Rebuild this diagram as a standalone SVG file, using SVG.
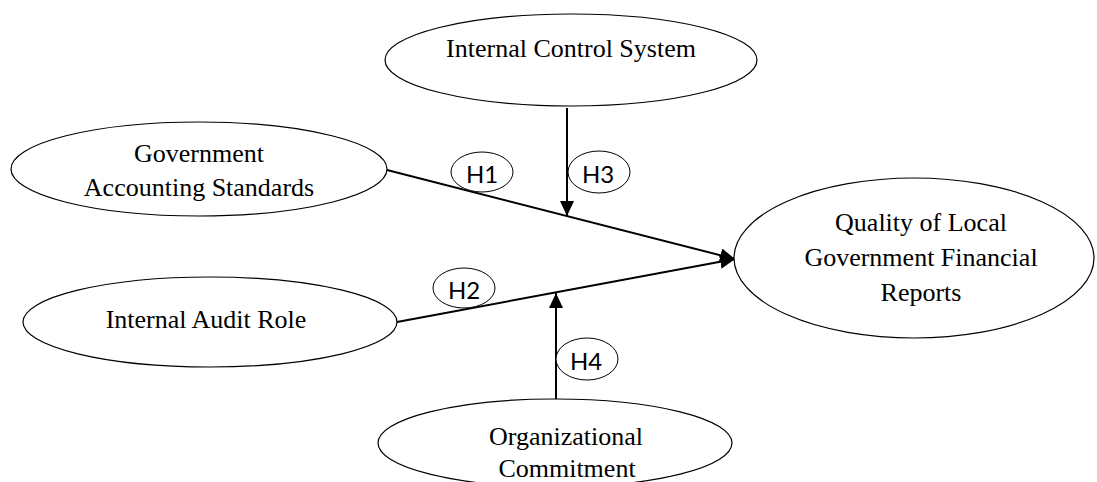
<svg xmlns="http://www.w3.org/2000/svg" width="1097" height="482" viewBox="0 0 1097 482">
<style>
.node{fill:#fff;stroke:#000;stroke-width:1.2}
.lab{fill:#fff;stroke:#000;stroke-width:1}
.t{font-family:"Liberation Serif","Times New Roman",serif;font-size:26px;fill:#000;text-anchor:middle}
.h{font-family:Lato,"Liberation Sans",sans-serif;font-size:24px;fill:#000;text-anchor:middle}
.c{stroke:#000;stroke-width:2;fill:none;marker-end:url(#ah)}
</style>
<defs>
<marker id="ah" markerUnits="userSpaceOnUse" markerWidth="16" markerHeight="14" refX="15" refY="7" orient="auto">
<path d="M0,0 L15,7 L0,14 z" fill="#000"/>
</marker>
</defs>
<rect width="1097" height="482" fill="#fff"/>
<g id="connectors">
<line class="c" x1="387" y1="170" x2="735" y2="259"/>
<line class="c" x1="397" y1="322" x2="735" y2="259"/>
<line class="c" x1="567" y1="108" x2="567" y2="216"/>
<line class="c" x1="556" y1="399" x2="556" y2="293"/>
</g>
<g id="ics">
<ellipse class="node" cx="571" cy="60" rx="186" ry="46"/>
<text class="t" x="571" y="57">Internal Control System</text>
</g>
<g id="gas">
<ellipse class="node" cx="199" cy="169" rx="188" ry="47"/>
<text class="t" x="199" y="162">Government</text>
<text class="t" x="199" y="196">Accounting Standards</text>
</g>
<g id="iar">
<ellipse class="node" cx="210" cy="322" rx="187" ry="45"/>
<text class="t" x="206" y="328">Internal Audit Role</text>
</g>
<g id="quality">
<ellipse class="node" cx="914" cy="258" rx="180" ry="80"/>
<text class="t" x="921" y="231">Quality of Local</text>
<text class="t" x="921" y="266">Government Financial</text>
<text class="t" x="921" y="301">Reports</text>
</g>
<g id="oc">
<ellipse class="node" cx="555" cy="443" rx="177" ry="44"/>
<text class="t" x="566" y="445">Organizational</text>
<text class="t" x="567" y="477">Commitment</text>
</g>
<g id="h1">
<ellipse class="lab" cx="482" cy="172" rx="31" ry="20"/>
<text class="h" x="482" y="183">H1</text>
</g>
<g id="h2">
<ellipse class="lab" cx="464" cy="288" rx="31" ry="20"/>
<text class="h" x="464" y="299">H2</text>
</g>
<g id="h3">
<ellipse class="lab" cx="599" cy="172" rx="31" ry="21"/>
<text class="h" x="598" y="183">H3</text>
</g>
<g id="h4">
<ellipse class="lab" cx="587" cy="359" rx="31" ry="21"/>
<text class="h" x="586" y="370">H4</text>
</g>
</svg>
